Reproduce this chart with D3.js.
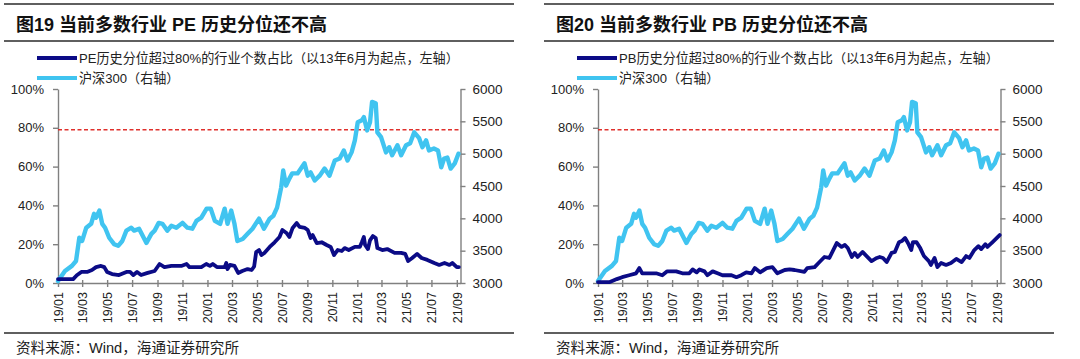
<!DOCTYPE html>
<html><head><meta charset="utf-8">
<script src="https://cdn.jsdelivr.net/npm/d3@7"></script>
<style>body{margin:0;background:#fff}svg{display:block}</style>
</head><body><svg id="c" width="1080" height="359"></svg>
<script>
const titles = ["图19 当前多数行业 PE 历史分位还不高", "图20 当前多数行业 PB 历史分位还不高"];
const legendNavy = ["PE历史分位超过80%的行业个数占比（以13年6月为起点，左轴）", "PB历史分位超过80%的行业个数占比（以13年6月为起点，左轴）"];
const legendCsi = "沪深300（右轴）";
const sourceText = "资料来源：Wind，海通证券研究所";
const xTickLabels = ["19/01","19/03","19/05","19/07","19/09","19/11","20/01","20/03","20/05","20/07","20/09","20/11","21/01","21/03","21/05","21/07","21/09"];
const leftTicks = [0, 20, 40, 60, 80, 100];
const rightTicks = [3000, 3500, 4000, 4500, 5000, 5500, 6000];
const thresholdPct = 79;

const csiDates = ["2019-01-01","2019-01-18","2019-02-04","2019-02-14","2019-02-22","2019-03-01","2019-03-11","2019-03-23","2019-03-30","2019-04-04","2019-04-12","2019-04-19","2019-04-26","2019-05-06","2019-05-18","2019-05-28","2019-06-07","2019-06-17","2019-06-29","2019-07-06","2019-07-18","2019-08-05","2019-08-17","2019-08-25","2019-09-04","2019-09-13","2019-09-25","2019-10-05","2019-10-17","2019-11-01","2019-11-13","2019-11-25","2019-12-05","2019-12-17","2019-12-30","2020-01-09","2020-01-19","2020-02-01","2020-02-12","2020-02-19","2020-02-28","2020-03-07","2020-03-14","2020-03-27","2020-04-08","2020-04-20","2020-05-06","2020-05-18","2020-06-01","2020-06-10","2020-06-19","2020-06-29","2020-07-04","2020-07-11","2020-07-19","2020-07-26","2020-08-08","2020-08-25","2020-09-02","2020-09-09","2020-09-19","2020-10-01","2020-10-13","2020-10-25","2020-11-07","2020-11-19","2020-11-29","2020-12-08","2020-12-18","2020-12-26","2021-01-02","2021-01-12","2021-01-17","2021-01-25","2021-02-01","2021-02-06","2021-02-15","2021-02-19","2021-02-28","2021-03-12","2021-03-20","2021-03-27","2021-04-09","2021-04-18","2021-04-30","2021-05-10","2021-05-20","2021-06-01","2021-06-09","2021-06-18","2021-06-25","2021-07-07","2021-07-17","2021-07-25","2021-08-01","2021-08-09","2021-08-17","2021-08-27","2021-09-05"];
const csiValues = [3030,3186,3265,3340,3700,3650,3855,3915,4070,4010,4120,3915,3855,3700,3600,3575,3650,3810,3855,3810,3840,3620,3760,3810,3930,3915,3810,3885,3855,3930,3855,3840,3960,4010,4150,4150,3960,3915,4150,3915,4120,3915,3650,3680,3760,3840,3995,3840,3995,4040,4165,4475,4740,4505,4615,4695,4695,4850,4660,4710,4585,4660,4770,4660,4895,4925,5050,4895,5020,5205,5485,5515,5565,5360,5485,5800,5780,5330,5255,5020,5100,4975,5130,4975,5130,5160,5330,5240,5100,5205,5050,5080,5050,4790,4925,4940,4770,4850,5000];

const peDates = ["2019-01-01","2019-02-07","2019-02-16","2019-02-27","2019-03-13","2019-03-25","2019-04-04","2019-04-16","2019-04-24","2019-05-01","2019-05-13","2019-05-30","2019-06-17","2019-06-26","2019-07-04","2019-07-13","2019-07-23","2019-08-08","2019-08-25","2019-09-06","2019-09-18","2019-10-05","2019-10-29","2019-11-11","2019-11-18","2019-12-17","2019-12-29","2020-01-07","2020-01-14","2020-01-24","2020-02-12","2020-02-16","2020-02-19","2020-02-25","2020-03-07","2020-03-16","2020-03-26","2020-04-08","2020-04-18","2020-04-24","2020-04-29","2020-05-06","2020-05-12","2020-05-19","2020-06-01","2020-06-13","2020-06-25","2020-07-02","2020-07-12","2020-07-19","2020-07-27","2020-08-06","2020-08-13","2020-08-26","2020-09-02","2020-09-09","2020-09-14","2020-09-24","2020-10-06","2020-10-18","2020-10-28","2020-11-05","2020-11-14","2020-11-24","2020-12-01","2020-12-11","2020-12-26","2021-01-07","2021-01-12","2021-01-17","2021-01-20","2021-01-27","2021-02-01","2021-02-08","2021-02-15","2021-02-19","2021-03-03","2021-03-15","2021-04-02","2021-04-18","2021-04-28","2021-05-05","2021-05-15","2021-05-27","2021-06-07","2021-06-21","2021-07-08","2021-07-20","2021-08-02","2021-08-14","2021-08-21","2021-09-01","2021-09-06"];
const peValues = [2,2,4,5.7,5.7,6.7,8.2,8.8,8.2,5.7,4.6,4.1,5.7,5.7,4.1,5.7,4.1,5.2,6.2,9.8,8.2,8.8,8.8,9.8,8.2,8.2,9.8,8.8,9.8,8.2,8.2,10.3,7.2,9.3,8.8,5.2,6.2,7.2,6.7,8.5,16,17,14.4,15.5,18.6,21,23.7,27.3,25.8,23.7,28.4,30.9,28.9,28.4,27.3,23.2,24.7,20.6,21,19.6,18.6,14.4,17,16.5,18,17,18.6,18.6,21,23.7,19.6,17.5,22,24.2,23.2,18,17,17.5,15.5,15.5,15,11.3,12.9,15,12.9,11.9,10.3,9.3,10.3,9.3,10.3,8.2,8.2];

const pbDates = ["2019-01-01","2019-01-30","2019-02-16","2019-03-01","2019-03-18","2019-04-04","2019-04-12","2019-04-19","2019-05-23","2019-06-07","2019-06-19","2019-07-11","2019-07-26","2019-08-12","2019-08-20","2019-08-30","2019-09-06","2019-09-18","2019-09-25","2019-10-08","2019-10-20","2019-11-01","2019-11-23","2019-12-05","2019-12-17","2019-12-29","2020-01-11","2020-01-19","2020-02-01","2020-02-17","2020-03-02","2020-03-14","2020-04-01","2020-04-13","2020-04-25","2020-05-19","2020-05-26","2020-06-13","2020-06-25","2020-07-07","2020-07-19","2020-08-06","2020-08-18","2020-08-26","2020-09-02","2020-09-12","2020-09-19","2020-09-26","2020-10-08","2020-10-18","2020-10-30","2020-11-12","2020-11-19","2020-11-27","2020-12-06","2020-12-18","2020-12-26","2021-01-05","2021-01-12","2021-01-20","2021-01-27","2021-02-04","2021-02-08","2021-02-17","2021-02-26","2021-03-07","2021-03-19","2021-03-24","2021-04-02","2021-04-09","2021-04-18","2021-04-30","2021-05-12","2021-05-25","2021-06-07","2021-06-18","2021-06-26","2021-07-08","2021-07-18","2021-07-25","2021-08-04","2021-08-09","2021-08-21","2021-09-03","2021-09-08"];
const pbValues = [0.5,0.5,2,3,4,5,7.7,5,5,4,6,6,5,5,7,5.5,7,6,4,6,5,4,4,3,4,5.5,5,7.7,5.5,7.7,8.2,5,6.7,7,6.7,5.7,7.7,8.2,10.8,13.4,12.9,20.6,18.6,19.6,18,13.4,15.5,13.4,16,13.9,11.3,12.9,13.4,12.9,10.8,15.5,16,21,21.6,23.2,20.6,17,21,21,18,13.9,11.3,9.3,12.9,8.2,10.3,9.3,10.3,12.4,10.8,13.9,12.9,17,19,17.5,20,18.6,21,23.7,24.7];

const parse = d3.timeParse("%Y-%m-%d");
const parseTick = d3.timeParse("%y/%m");
const svg = d3.select("#c");

const NAVY = "#0b0b86", SKY = "#40c4f0", AXIS = "#808080", TXT = "#222";
const latinCjk = "'Liberation Sans', Arial, 'Noto Sans CJK SC', sans-serif";

function panel(ox, k, navyDates, navyValues) {
  const g = svg.append("g").attr("transform", `translate(${ox},0)`);
  [4, 41, 333].forEach(y => g.append("line").attr("x1", 4).attr("x2", 514).attr("y1", y).attr("y2", y)
    .attr("stroke", "#2a2a2a").attr("stroke-width", 1.4));
  g.append("text").attr("x", 16).attr("y", 31).text(titles[k])
    .style("font-family", latinCjk).style("font-weight", "bold").style("font-size", "18px").attr("fill", "#111");
  const leg = [[legendNavy[k], NAVY, 58], [legendCsi, SKY, 78]];
  leg.forEach(([t, c, y]) => {
    g.append("line").attr("x1", 37).attr("x2", 77).attr("y1", y).attr("y2", y).attr("stroke", c).attr("stroke-width", 4);
    g.append("text").attr("x", 79).attr("y", y + 4.5).text(t)
      .style("font-family", latinCjk).style("font-size", "13.1px").attr("fill", TXT);
  });
  g.append("text").attr("x", 16).attr("y", 353).text(sourceText)
    .style("font-family", latinCjk).style("font-size", "14.6px").attr("fill", TXT);

  const x = d3.scaleTime().domain([parse("2019-01-01"), parse("2021-09-10")]).range([58, 460.5]);
  const yL = d3.scaleLinear().domain([0, 100]).range([283, 89]);
  const yR = d3.scaleLinear().domain([3000, 6000]).range([283, 89]);

  const axL = g.append("g").attr("transform", "translate(58,0)")
    .call(d3.axisLeft(yL).tickValues(leftTicks).tickFormat(d => d + "%").tickSizeInner(5).tickSizeOuter(0).tickPadding(9));
  const axR = g.append("g").attr("transform", "translate(460.5,0)")
    .call(d3.axisRight(yR).tickValues(rightTicks).tickFormat(d3.format("d")).tickSizeInner(5).tickSizeOuter(0).tickPadding(7));
  const tickDates = xTickLabels.map(parseTick);
  const axB = g.append("g").attr("transform", "translate(0,283)")
    .call(d3.axisBottom(x).tickValues(tickDates).tickFormat((d, i) => xTickLabels[i]).tickSizeInner(4).tickSizeOuter(0));
  axB.selectAll(".tick line").attr("y1", -3).attr("y2", 4);
  axB.selectAll(".tick text").attr("transform", "rotate(-90)").attr("x", -9).attr("y", 0).attr("dy", "0.35em")
    .style("text-anchor", "end").style("font-size", "12.5px");
  [axL, axR, axB].forEach(a => {
    a.selectAll(".domain, .tick line").attr("stroke", AXIS).attr("stroke-width", 1.4);
    a.selectAll("text").attr("fill", TXT).style("font-family", "'Liberation Sans', Arial, sans-serif");
  });
  axL.selectAll("text").style("font-size", "13px");
  axR.selectAll("text").style("font-size", "13.5px");

  g.append("line").attr("x1", 58).attr("x2", 460.5).attr("y1", yL(thresholdPct)).attr("y2", yL(thresholdPct))
    .attr("stroke", "#e0302c").attr("stroke-width", 1.3).attr("stroke-dasharray", "4,2.5");

  const csi = csiDates.map((d, i) => [parse(d), csiValues[i]]);
  const nav = navyDates.map((d, i) => [parse(d), navyValues[i]]);
  g.append("path").datum(csi).attr("fill", "none").attr("stroke", SKY).attr("stroke-width", 4.4)
    .attr("stroke-linejoin", "round").attr("stroke-linecap", "round")
    .attr("d", d3.line().x(d => x(d[0])).y(d => yR(d[1])));
  g.append("path").datum(nav).attr("fill", "none").attr("stroke", NAVY).attr("stroke-width", 3.8)
    .attr("stroke-linejoin", "round").attr("stroke-linecap", "round")
    .attr("d", d3.line().x(d => x(d[0])).y(d => yL(d[1])));
}

panel(0, 0, peDates, peValues);
panel(540, 1, pbDates, pbValues);
</script></body></html>
